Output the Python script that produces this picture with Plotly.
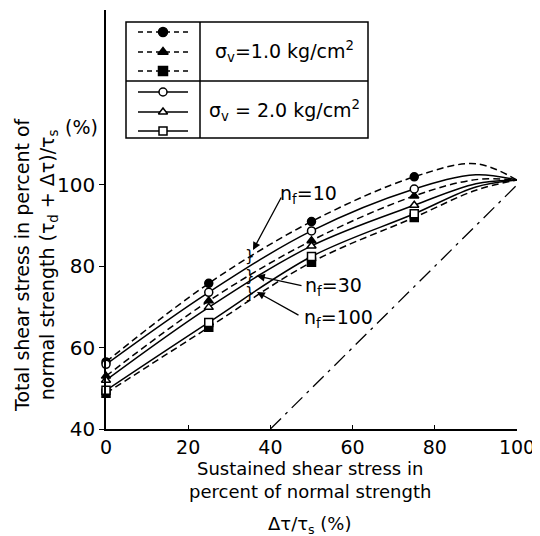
import plotly.graph_objects as go

# ---------------- data ----------------
x_curve = [0, 25, 50, 75, 90, 100]
# sigma_v = 1.0 kg/cm2 (dashed, filled markers)
d_n10 = [56.5, 75.8, 91.0, 102.0, 105.2, 101.2]
d_n30 = [53.0, 71.5, 86.3, 97.3, 101.3, 101.2]
d_n100 = [48.8, 65.0, 81.0, 92.0, 98.7, 101.2]
# sigma_v = 2.0 kg/cm2 (solid, open markers)
s_n10 = [55.9, 73.6, 88.7, 99.0, 102.5, 101.2]
s_n30 = [52.0, 69.9, 85.0, 95.0, 100.3, 101.2]
s_n100 = [49.5, 66.2, 82.4, 92.9, 99.5, 101.2]
n_markers = 4  # markers drawn at the first four x positions

ref_x = [40, 100]
ref_y = [40, 100]

x_ticks = [0, 20, 40, 60, 80, 100]
y_ticks = [40, 60, 80, 100]

legend_rows = [
    ("dash", "circle", True), ("dash", "triangle-up", True), ("dash", "square", True),
    ("solid", "circle", False), ("solid", "triangle-up", False), ("solid", "square", False),
]
legend_text = ["σ<sub>v</sub>=1.0 kg/cm<sup>2</sup>", "σ<sub>v</sub> = 2.0 kg/cm<sup>2</sup>"]
nf_labels = ["n<sub>f</sub>=10", "n<sub>f</sub>=30", "n<sub>f</sub>=100"]

# ---------------- layout geometry (reference pixels) ----------------
OFF = 8  # page body margin
W, H = 540 - OFF, 536 - OFF
L, R, T, B = 106, 517, 10, 429
FONT = "DejaVu Sans, Liberation Sans, sans-serif"


def px(xp):
    return (xp - L) / (R - L)


def py(yp):
    return (B - yp) / (B - T)


fig = go.Figure()

DASH = "7px,4px"
series = [
    (d_n10, DASH, "circle", True),
    (d_n30, DASH, "triangle-up", True),
    (d_n100, DASH, "square", True),
    (s_n10, "solid", "circle", False),
    (s_n30, "solid", "triangle-up", False),
    (s_n100, "solid", "square", False),
]
for ys, dash, sym, filled in series:
    fig.add_trace(go.Scatter(
        x=x_curve, y=ys, mode="lines",
        line=dict(color="black", width=1.5, dash=dash, shape="spline", smoothing=1.0),
        showlegend=False, hoverinfo="skip"))
    fig.add_trace(go.Scatter(
        x=x_curve[:n_markers], y=ys[:n_markers], mode="markers",
        marker=dict(symbol=sym, size=8, color="black" if filled else "white",
                    line=dict(color="black", width=1.5)),
        showlegend=False, hoverinfo="skip", cliponaxis=False))

fig.add_trace(go.Scatter(
    x=ref_x, y=ref_y, mode="lines",
    line=dict(color="black", width=1.3, dash="longdashdot"),
    showlegend=False, hoverinfo="skip"))

# ---------------- legend table (overlay axes in pixel units) ----------------
row_y = [32, 52, 71, 92, 112, 131]
for (dash, sym, filled), yy in zip(legend_rows, row_y):
    fig.add_trace(go.Scatter(
        x=[138, 188], y=[yy, yy], mode="lines", xaxis="x2", yaxis="y2",
        line=dict(color="black", width=1.5, dash="5px,4px" if dash == "dash" else "solid"),
        showlegend=False, hoverinfo="skip", cliponaxis=False))
    fig.add_trace(go.Scatter(
        x=[163], y=[yy], mode="markers", xaxis="x2", yaxis="y2",
        marker=dict(symbol=sym, size=9 if filled else 8,
                    color="black" if filled else "white",
                    line=dict(color="black", width=1.5)),
        showlegend=False, hoverinfo="skip", cliponaxis=False))

shapes = [
    dict(type="rect", xref="x2", yref="y2", x0=126, x1=368, y0=22, y1=138,
         line=dict(color="black", width=1.5)),
    dict(type="line", xref="x2", yref="y2", x0=200, x1=200, y0=22, y1=138,
         line=dict(color="black", width=1.5)),
    dict(type="line", xref="x2", yref="y2", x0=126, x1=368, y0=81, y1=81,
         line=dict(color="black", width=1.5)),
]

annotations = []
for txt, yy in zip(legend_text, [51, 110]):
    annotations.append(dict(x=284, y=yy, xref="x2", yref="y2", text=txt, showarrow=False,
                            xanchor="center", yanchor="middle",
                            font=dict(family=FONT, size=19, color="black")))

# n_f labels with arrows pointing to the brackets
nf_pos = [(308, 194), (333, 286), (338, 318)]
nf_tip = [(253, 250), (257, 276), (257, 292)]
nf_tail = [(282, 196), (303, 286), (300, 316)]
for txt, (tx, ty), (ax, ay), (hx, hy) in zip(nf_labels, nf_pos, nf_tip, nf_tail):
    annotations.append(dict(x=tx, y=ty, xref="x2", yref="y2", text=txt, showarrow=False,
                            xanchor="center", yanchor="middle",
                            font=dict(family=FONT, size=19, color="black")))
    annotations.append(dict(x=ax, y=ay, ax=hx, ay=hy, xref="x2", yref="y2",
                            axref="x2", ayref="y2", text="", showarrow=True,
                            arrowhead=2, arrowsize=1.2, arrowwidth=1.3, arrowcolor="black"))
for yy in [256, 276, 293]:
    annotations.append(dict(x=250, y=yy, xref="x2", yref="y2", text="}", showarrow=False,
                            xanchor="center", yanchor="middle",
                            font=dict(family=FONT, size=15, color="black")))

# "(%)" unit label on the y axis
annotations.append(dict(x=px(100), y=py(127), xref="paper", yref="paper", text="(%)",
                        showarrow=False, xanchor="right", yanchor="middle",
                        font=dict(family=FONT, size=19, color="black")))
# y title
annotations.append(dict(x=px(36), y=py(265), xref="paper", yref="paper",
                        text="Total shear stress in percent of<br>normal strength (τ<sub>d</sub> + Δτ)/τ<sub>s</sub>",
                        showarrow=False, textangle=-90, xanchor="center", yanchor="middle",
                        font=dict(family=FONT, size=19, color="black")))
# x title
annotations.append(dict(x=px(310), y=py(480), xref="paper", yref="paper",
                        text="Sustained shear stress in<br>percent of normal strength",
                        showarrow=False, xanchor="center", yanchor="middle",
                        font=dict(family=FONT, size=18, color="black")))
annotations.append(dict(x=px(310), y=py(525), xref="paper", yref="paper",
                        text="Δτ/τ<sub>s</sub> (%)",
                        showarrow=False, xanchor="center", yanchor="middle",
                        font=dict(family=FONT, size=18, color="black")))

fig.update_layout(
    width=W, height=H, autosize=False,
    margin=dict(l=L - OFF, r=W - (R - OFF), t=T - OFF, b=H - (B - OFF)),
    paper_bgcolor="white", plot_bgcolor="white",
    font=dict(family=FONT, size=19, color="black"),
    xaxis=dict(range=[0, 100], tickvals=x_ticks, ticks="inside", ticklen=4,
               tickcolor="black", showline=True, linecolor="black", linewidth=1.5,
               showgrid=False, zeroline=False, tickfont=dict(size=19)),
    yaxis=dict(range=[40, 143], tickvals=y_ticks, ticks="outside", ticklen=5,
               tickcolor="black", showline=True, linecolor="black", linewidth=1.5,
               showgrid=False, zeroline=False, tickfont=dict(size=20)),
    xaxis2=dict(range=[L, R], overlaying="x", anchor="y2", visible=False),
    yaxis2=dict(range=[B, T], overlaying="y", anchor="x2", visible=False),
    shapes=shapes, annotations=annotations, showlegend=False,
)

fig.write_html("out.html")
